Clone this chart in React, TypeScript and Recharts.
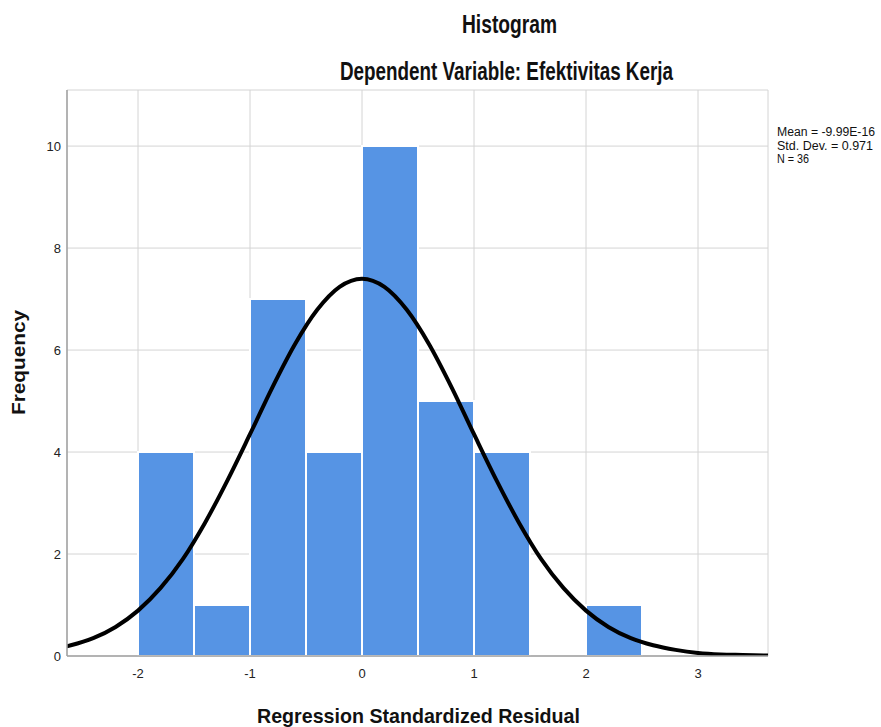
import React from "react";
import {
  ComposedChart,
  Bar,
  Line,
  XAxis,
  YAxis,
  CartesianGrid,
} from "recharts";

// histogram bins (width 0.5), midpoints and counts
const binMids = [-1.75, -1.25, -0.75, -0.25, 0.25, 0.75, 1.25, 1.75, 2.25];
const binCounts = [4, 1, 7, 4, 10, 5, 4, 0, 1];

// normal curve
const curveX = [
  -2.8, -2.6, -2.4, -2.2, -2.0, -1.8, -1.6, -1.4, -1.2, -1.0, -0.8, -0.6, -0.4,
  -0.2, 0, 0.2, 0.4, 0.6, 0.8, 1.0, 1.2, 1.4, 1.6, 1.8, 2.0, 2.2, 2.4, 2.6, 2.8,
  3.0, 3.2, 3.4, 3.6, 3.8,
];
const curveY = [
  0.12, 0.21, 0.35, 0.57, 0.89, 1.33, 1.9, 2.62, 3.45, 4.35, 5.27, 6.11, 6.79,
  7.24, 7.4, 7.24, 6.79, 6.11, 5.27, 4.35, 3.45, 2.62, 1.9, 1.33, 0.89, 0.57,
  0.35, 0.21, 0.12, 0.06, 0.03, 0.02, 0.01, 0.0,
];

const xTicks = [-2, -1, 0, 1, 2, 3];
const yTicks = [0, 2, 4, 6, 8, 10];
const statsLines = ["Mean = -9.99E-16", "Std. Dev. = 0.971", "N = 36"];
const statsWidths = [98, 96, 32];

const font = "'Liberation Sans', Arial, sans-serif";
const xDomain = [-2.634, 3.625];

export default function App() {
  const binData = binMids.map((x, i) => ({ x, count: binCounts[i] }));
  const curveData = curveX.map((x, i) => ({ x, y: curveY[i] }));

  const titleProps = {
    fontFamily: font,
    fontWeight: "bold",
    fill: "#111",
    lengthAdjust: "spacingAndGlyphs",
  };

  return (
    <div style={{ position: "relative", width: 881, height: 727, background: "#fff" }}>
      <style>{"body{margin:0}"}</style>
      <ComposedChart
        width={881}
        height={727}
        data={binData}
        barCategoryGap={0}
        barGap={0}
        margin={{ top: 90, right: 113, bottom: 0, left: 0 }}
      >
        <CartesianGrid xAxisId="curve" stroke="#d4d4d4" strokeWidth={1} />
        <XAxis
          xAxisId="curve"
          type="number"
          dataKey="x"
          domain={xDomain}
          ticks={xTicks}
          allowDataOverflow
          height={71}
          tickLine={false}
          tickMargin={7}
          stroke="#a0a0a0"
          strokeWidth={1.5}
          tick={{ fill: "#222", fontSize: 13, fontFamily: font }}
        />
        <XAxis
          xAxisId="bins"
          orientation="top"
          type="number"
          dataKey="x"
          domain={xDomain}
          allowDataOverflow
          height={0}
          hide
        />
        <YAxis
          type="number"
          domain={[0, 11.1]}
          ticks={yTicks}
          allowDataOverflow
          width={67}
          tickLine={false}
          tickSize={4}
          stroke="#a0a0a0"
          strokeWidth={1.5}
          tick={{ fill: "#222", fontSize: 13, fontFamily: font }}
        />
        <Bar
          xAxisId="bins"
          dataKey="count"
          fill="#5694e4"
          stroke="#ffffff"
          strokeWidth={2}
          isAnimationActive={false}
        />
        <Line
          xAxisId="curve"
          data={curveData}
          dataKey="y"
          type="monotone"
          stroke="#000"
          strokeWidth={4}
          dot={false}
          isAnimationActive={false}
        />
      </ComposedChart>
      <svg
        width={881}
        height={727}
        style={{ position: "absolute", left: 0, top: 0, pointerEvents: "none" }}
      >
        <text x={462} y={33} fontSize={25} textLength={95} {...titleProps}>
          Histogram
        </text>
        <text x={340} y={80} fontSize={25} textLength={333} {...titleProps}>
          Dependent Variable: Efektivitas Kerja
        </text>
        <text x={257} y={723} fontSize={21} textLength={323} {...titleProps}>
          Regression Standardized Residual
        </text>
        <text
          x={0}
          y={0}
          transform="translate(25,415) rotate(-90)"
          fontSize={18}
          textLength={105}
          {...titleProps}
        >
          Frequency
        </text>
        {statsLines.map((s, i) => (
          <text
            key={s}
            x={777}
            y={136 + i * 13.5}
            fontFamily={font}
            fontSize={12.5}
            fill="#111"
            textLength={statsWidths[i]}
            lengthAdjust="spacingAndGlyphs"
          >
            {s}
          </text>
        ))}
      </svg>
    </div>
  );
}
